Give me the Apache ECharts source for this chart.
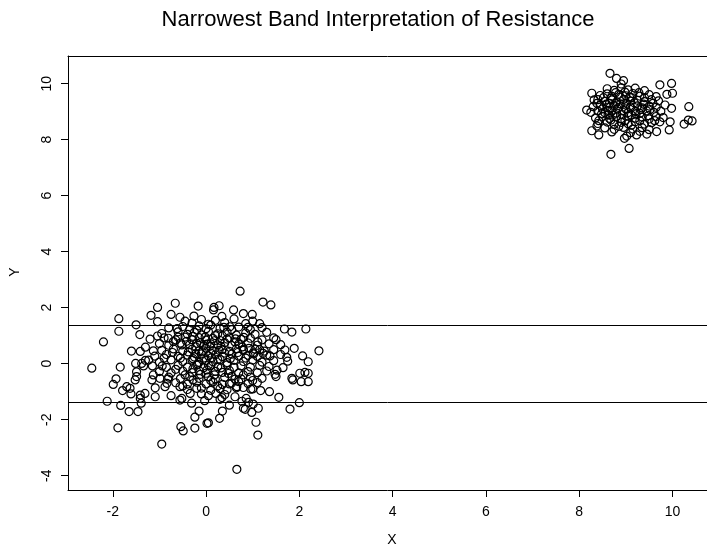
<!DOCTYPE html>
<html><head><meta charset="utf-8">
<script src="https://cdn.jsdelivr.net/npm/echarts@6/dist/echarts.min.js"></script>
<style>html,body{margin:0;padding:0;background:#fff}#c{width:707px;height:548px}</style>
</head><body><div id="c"></div>
<script>
const chartTitle = 'Narrowest Band Interpretation of Resistance';
const xName = 'X';
const yName = 'Y';
const xTicks = [-2, 0, 2, 4, 6, 8, 10];
const yTicks = [-4, -2, 0, 2, 4, 6, 8, 10];
const bandLevels = [1.37, -1.37];

const lowerOuter = [
[-1.04,2.01],[-0.66,2.16],[-1.18,1.73],[-0.75,1.76],[-0.56,1.66],[-1.04,1.50],[-1.87,1.61],[-1.50,1.39],
[-1.87,1.16],[-1.42,1.04],[-2.20,0.78],[-1.04,0.99],[-1.60,0.45],[-1.41,0.44],[-1.30,0.59],[-1.13,0.46],
[-2.45,-0.16],[-1.84,-0.12],[-1.51,0.01],[-1.23,0.13],[-1.34,-0.08],[-1.49,-0.29],[-1.93,-0.54],[-1.99,-0.74],
[-1.70,-0.82],[-0.94,-0.08],[-0.17,2.06],[-0.26,1.70],[-1.79,-0.96],[-1.61,-1.08],[-1.41,-1.12],[-1.31,-1.06],
[-2.12,-1.34],[-1.83,-1.49],[-1.65,-1.71],[-1.46,-1.71],[-1.89,-2.29],[-0.95,-2.87],[-0.54,-2.25],[-0.49,-2.40],
[-0.24,-2.30],[-0.24,-1.91],[-1.09,-1.18],[-0.75,-1.14],[-1.39,-1.41],[-0.56,-1.30],[0.66,-3.77],[1.11,-2.55],
[1.07,-2.09],[1.80,-1.62],[2.00,-1.39],[1.56,-1.20],[1.36,-1.00],[1.17,-0.96],[0.05,-2.11],[0.29,-1.95],
[-0.15,-1.69],[0.35,-1.69],[0.21,-1.06],[-0.03,-1.32],[0.34,-1.21],[0.62,-1.18],[0.50,-1.48],[0.77,-1.34],
[0.84,-1.63],[0.98,-1.74],[1.12,-1.59],[0.86,-1.24],[0.66,-0.82],[0.96,-0.91],[1.86,-0.58],[2.04,-0.64],
[2.19,-0.64],[0.73,2.59],[1.22,2.20],[1.39,2.10],[0.17,2.01],[0.28,2.07],[0.34,1.69],[0.59,1.92],
[0.80,1.79],[0.99,1.76],[0.51,1.32],[1.15,1.43],[1.68,1.24],[1.84,1.13],[2.14,1.24],[1.50,0.86],
[1.11,0.78],[0.81,0.94],[0.63,0.89],[0.35,0.99],[1.89,0.55],[2.42,0.46],[1.69,0.49],[1.73,0.23],
[2.07,0.28],[2.19,0.07],[1.52,-0.23],[1.84,-0.52],[2.01,-0.34],[2.19,-0.34],[1.37,0.28],[1.22,0.37],
[1.01,0.39],[0.80,0.51],[1.30,0.31],[0.16,1.92],[-1.38,0.01],[-0.81,0.91],[-0.70,0.79],[-0.52,0.67],
[-1.52,-0.58],[-1.49,-0.46],[-1.63,-0.88],[-1.41,-1.24],[-1.13,-0.40],[-1.16,-0.58],[-1.09,-0.86],[-0.99,-0.52],
[-0.88,-0.82],[-0.84,-0.70],[-0.56,-0.82],[-0.52,-1.24],[-0.34,-1.06],[-0.20,-0.88],[-0.31,-1.41],[0.02,-2.13],
[1.00,-0.90],[2.12,-0.31],[1.48,-0.38],[0.30,-1.27],[0.91,-1.38],[1.01,-1.44],[0.80,-1.59]
];

const lowerCore = [
[-0.45,1.52],[-0.3,1.45],[-0.1,1.58],[0.05,1.41],[0.2,1.55],[0.4,1.47],[0.6,1.6],[0.85,1.43],[1.0,1.52],
[-0.8,1.28],[-0.5,1.33],[-0.35,1.22],[-0.15,1.35],[0.0,1.25],[0.1,1.38],[0.3,1.27],[0.7,1.31],[0.95,1.22],[1.2,1.29],
[-0.95,1.08],[-0.6,1.14],[-0.4,1.05],[-0.25,1.12],[-0.1,1.03],[0.05,1.15],[0.25,1.07],[0.45,1.12],[0.65,1.02],[0.85,1.1],[1.05,1.05],[1.3,1.12],
[-1.2,0.88],[-0.9,0.92],[-0.65,0.85],[-0.45,0.95],[-0.3,0.86],[-0.15,0.93],[0.0,0.84],[0.15,0.9],[0.3,0.83],[0.5,0.92],[0.75,0.87],[0.95,0.91],[1.2,0.85],[1.45,0.92],
[-1.0,0.72],[-0.8,0.66],[-0.55,0.74],[-0.35,0.68],[-0.2,0.73],[-0.05,0.64],[0.1,0.71],[0.25,0.67],[0.4,0.75],[0.55,0.65],[0.7,0.7],[0.9,0.74],[1.1,0.66],[1.35,0.71],[1.6,0.68],
[-0.95,0.48],[-0.7,0.53],[-0.5,0.45],[-0.3,0.52],[-0.15,0.46],[0.0,0.55],[0.15,0.47],[0.35,0.51],[0.5,0.44],[0.65,0.53],[0.8,0.48],[1.05,0.52],[1.25,0.45],[1.45,0.5],
[-1.1,0.27],[-0.85,0.33],[-0.6,0.26],[-0.4,0.31],[-0.25,0.24],[-0.1,0.35],[0.05,0.28],[0.2,0.32],[0.35,0.25],[0.55,0.34],[0.7,0.27],[0.9,0.3],[1.1,0.26],[1.6,0.33],
[-1.3,0.12],[-1.0,0.06],[-0.75,0.14],[-0.5,0.08],[-0.3,0.13],[-0.15,0.05],[0.0,0.11],[0.15,0.07],[0.3,0.15],[0.45,0.04],[0.6,0.12],[0.8,0.08],[1.0,0.13],[1.2,0.06],[1.45,0.11],[1.75,0.09],
[-1.15,-0.08],[-0.85,-0.13],[-0.6,-0.06],[-0.4,-0.12],[-0.2,-0.05],[-0.05,-0.14],[0.1,-0.07],[0.25,-0.11],[0.45,-0.04],[0.6,-0.13],[0.75,-0.08],[0.95,-0.12],[1.15,-0.06],[1.35,-0.1],[1.65,-0.14],
[-1.0,-0.28],[-0.75,-0.33],[-0.5,-0.26],[-0.3,-0.32],[-0.15,-0.25],[0.0,-0.34],[0.2,-0.27],[0.35,-0.31],[0.5,-0.24],[0.7,-0.33],[0.9,-0.28],[1.1,-0.32],[1.3,-0.26],
[-0.8,-0.48],[-0.55,-0.53],[-0.35,-0.46],[-0.15,-0.52],[0.05,-0.47],[0.2,-0.55],[0.4,-0.49],[0.55,-0.45],[0.75,-0.54],[0.95,-0.48],[1.2,-0.52],[1.5,-0.46],
[-0.65,-0.68],[-0.4,-0.73],[-0.2,-0.66],[0.0,-0.72],[0.15,-0.65],[0.35,-0.74],[0.55,-0.69],[0.7,-0.64],[0.9,-0.71],[1.1,-0.67],
[-0.4,-0.92],[-0.1,-0.87],[0.1,-0.95],[0.3,-0.89],[0.45,-0.93],[0.65,-0.86],
[-0.1,-1.08],[0.05,-1.14],[0.4,-1.1],
[-0.22,0.6],[-0.08,0.42],[0.08,0.62],[-0.28,0.18],[0.12,0.22],[-0.02,0.95],[0.2,1.0],[-0.18,-0.02],[0.02,-0.22],[0.28,0.48]
];

const lowerCoreExtra = [
[-0.6,0.95],[-0.42,0.8],[-0.28,0.98],[-0.12,0.75],[0.02,0.7],[0.18,0.82],[0.32,0.62],[0.45,0.88],[0.62,0.78],[0.78,0.6],
[0.92,0.55],[1.15,0.5],[-0.72,0.4],[-0.55,0.2],[-0.38,0.42],[-0.22,0.36],[-0.05,0.2],[0.1,0.38],[0.25,0.15],[0.4,0.38],
[0.52,0.18],[0.68,0.4],[0.85,0.2],[1.02,0.35],[-0.65,-0.2],[-0.45,-0.4],[-0.28,-0.18],[-0.12,-0.38],[0.05,-0.05],[0.18,-0.4],
[0.32,-0.15],[0.48,-0.35],[0.62,-0.55],[0.8,-0.4],[1.0,-0.6],[-0.5,-0.8],[-0.28,-0.58],[0.1,-0.6],[0.25,-0.8],[0.5,-0.72],
[0.8,-0.85],[-0.9,0.2],[-0.82,-0.55],[-0.62,1.25],[0.55,1.22],[0.9,1.3],[-0.2,1.2],[0.38,1.3]
];

const upperOuter = [
[8.66,10.37],[8.80,10.19],[8.95,10.11],[8.90,9.99],[9.73,9.96],[9.98,10.01],[9.88,9.62],[10.00,9.66],
[8.27,9.66],[8.32,9.42],[8.16,9.06],[10.35,9.18],[10.25,8.56],[10.34,8.70],[10.42,8.67],[9.95,8.64],
[9.93,8.35],[9.73,8.64],[8.27,8.32],[8.42,8.17],[8.38,8.49],[8.68,7.48],[9.07,7.69],[8.97,8.05],
[9.02,8.13],[9.66,8.29],[9.45,8.20],[9.23,8.17],[9.98,9.12],[9.84,9.24]
];

const upperCore = [
[8.6,9.82],[8.75,9.76],[8.9,9.85],[9.05,9.78],[9.2,9.84],[9.4,9.75],
[8.45,9.58],[8.6,9.64],[8.7,9.55],[8.85,9.62],[9.0,9.57],[9.15,9.65],[9.3,9.56],[9.5,9.61],[9.65,9.54],
[8.4,9.43],[8.55,9.37],[8.7,9.42],[8.8,9.35],[8.95,9.44],[9.1,9.38],[9.25,9.41],[9.4,9.36],[9.55,9.43],[9.7,9.39],
[8.3,9.18],[8.45,9.23],[8.6,9.16],[8.75,9.22],[8.85,9.15],[9.0,9.24],[9.1,9.17],[9.25,9.21],[9.35,9.14],[9.5,9.2],[9.65,9.16],
[8.25,8.98],[8.4,9.03],[8.55,8.96],[8.7,9.02],[8.8,8.95],[8.95,9.04],[9.05,8.97],[9.2,9.01],[9.3,8.94],[9.45,9.03],[9.6,8.98],[9.75,9.02],
[8.35,8.78],[8.5,8.83],[8.65,8.76],[8.8,8.82],[8.9,8.75],[9.05,8.84],[9.2,8.77],[9.35,8.81],[9.5,8.74],[9.65,8.83],[9.8,8.79],
[8.4,8.58],[8.6,8.63],[8.75,8.55],[8.9,8.62],[9.05,8.57],[9.2,8.64],[9.4,8.56],[9.55,8.61],
[8.55,8.42],[8.75,8.37],[8.95,8.44],[9.15,8.38],[9.35,8.43],[9.5,8.36],
[8.7,8.28],[9.1,8.25],[9.3,8.3],
[8.65,9.3],[8.82,9.1],[8.92,8.9],[9.02,9.3],[8.72,8.88],[9.12,9.5],[8.88,9.52],[9.22,8.92],[8.5,9.1],[8.98,8.68]
];

const upperCoreExtra = [
[8.52,9.5],[8.68,9.48],[8.78,9.68],[8.98,9.7],[9.08,9.52],[9.28,9.68],[8.38,9.3],[8.58,9.27],[8.78,9.3],[9.18,9.32],
[9.38,9.27],[9.58,9.3],[8.48,8.92],[8.62,8.88],[9.12,8.88],[9.32,9.08],[9.52,9.08],[8.42,8.68],[8.68,8.7],[8.85,8.48],
[9.12,8.52],[9.3,8.68],[9.48,8.86],[9.62,8.68],[8.62,9.05],[9.0,9.1],[8.88,9.28],[9.4,9.5]
];

const FONT = '"Liberation Sans", Arial, Helvetica, sans-serif';
const chart = echarts.init(document.getElementById('c'), null, {renderer: 'canvas'});
const allPts = lowerOuter.concat(lowerCore, lowerCoreExtra, upperOuter, upperCore, upperCoreExtra);
const XMIN = -2.96, XMAX = 10.74, YMIN = -4.51, YMAX = 10.99;
const lineBlack = {color: '#000', width: 1};

chart.setOption({
  animation: false,
  backgroundColor: '#fff',
  grid: {left: 68, top: 56, width: 639, height: 434, show: false},
  xAxis: [{
    type: 'value', min: XMIN, max: XMAX, position: 'bottom',
    splitLine: {show: false},
    axisLine: {show: true, onZero: false, lineStyle: lineBlack},
    axisTick: {show: true, inside: false, length: 7, lineStyle: lineBlack, customValues: xTicks},
    axisLabel: {customValues: xTicks, color: '#000', fontSize: 14, fontFamily: FONT, margin: 15}
  }, {
    type: 'value', min: XMIN, max: XMAX, position: 'top',
    splitLine: {show: false},
    axisLine: {show: true, onZero: false, lineStyle: lineBlack},
    axisTick: {show: false}, axisLabel: {show: false}
  }],
  yAxis: {
    type: 'value', min: YMIN, max: YMAX, position: 'left',
    splitLine: {show: false},
    axisLine: {show: true, onZero: false, lineStyle: lineBlack},
    axisTick: {show: true, inside: false, length: 7, lineStyle: lineBlack, customValues: yTicks},
    axisLabel: {customValues: yTicks, color: '#000', fontSize: 14, fontFamily: FONT, margin: 14, rotate: 90}
  },
  series: [{
    type: 'scatter',
    xAxisIndex: 0,
    data: allPts,
    symbol: 'circle',
    symbolSize: 8,
    silent: true,
    itemStyle: {color: 'rgba(0,0,0,0)', borderColor: '#000', borderWidth: 1.2, opacity: 1},
    markLine: {
      silent: true, symbol: ['none', 'none'], label: {show: false},
      lineStyle: {color: '#000', width: 1, type: 'solid'},
      data: bandLevels.map(v => ({yAxis: v}))
    }
  }],
  graphic: [
    {type: 'text', x: 378, y: 20, style: {text: chartTitle, align: 'center', verticalAlign: 'middle', fontSize: 22, fontFamily: FONT, fill: '#000'}},
    {type: 'text', x: 392, y: 540, style: {text: xName, align: 'center', verticalAlign: 'middle', fontSize: 14, fontFamily: FONT, fill: '#000'}},
    {type: 'text', x: 15, y: 272, rotation: Math.PI / 2, style: {text: yName, align: 'center', verticalAlign: 'middle', fontSize: 14, fontFamily: FONT, fill: '#000'}}
  ]
});
</script>
</body></html>
